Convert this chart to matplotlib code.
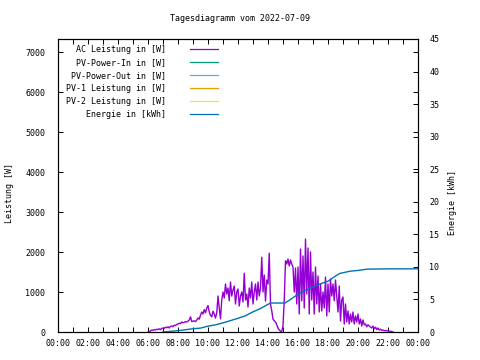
import numpy as np
import matplotlib
matplotlib.use("Agg")
import matplotlib.pyplot as plt
from matplotlib.ticker import FixedLocator, MultipleLocator
from matplotlib.lines import Line2D

title = "Tagesdiagramm vom 2022-07-09"
series_labels = ["AC Leistung in [W]", "PV-Power-In in [W]", "PV-Power-Out in [W]",
                 "PV-1 Leistung in [W]", "PV-2 Leistung in [W]", "Energie in [kWh]"]
series_colors = ["#9400D3", "#009E73", "#56B4E9", "#E69F00", "#F0E442", "#0072B2"]

# AC power, 5-minute samples from 06:00 to 22:20
ac_start_hour = 6.0
ac_power = [
    0, 0, 30, 50, 40, 60, 50, 70, 60, 80, 60, 90,                      # 06
    100, 90, 120, 110, 130, 100, 140, 150, 130, 170, 160, 190,         # 07
    200, 220, 210, 250, 230, 240, 260, 250, 270, 300, 380, 260,        # 08
    270, 280, 260, 300, 350, 320, 420, 500, 450, 560, 480, 600,        # 09
    660, 500, 420, 380, 520, 450, 350, 480, 900, 600, 330, 800,        # 10
    1000, 850, 1200, 950, 1100, 780, 1250, 900, 1050, 1150, 700, 1000, # 11
    1075, 650, 900, 1000, 750, 1470, 800, 950, 625, 1100, 850, 1250,   # 12
    700, 1000, 1200, 800, 1250, 900, 1100, 1870, 1000, 1425, 775, 1300,# 13
    1200, 1970, 700, 530, 320, 280, 250, 180, 100, 50, 20, 10,         # 14
    150, 800, 1780, 1700, 1825, 1650, 1800, 1700, 1625, 1000, 1600, 700,  # 15
    1625, 450, 2075, 780, 1900, 600, 2325, 950, 2100, 450, 2000, 800,  # 16
    1500, 450, 1625, 700, 1400, 500, 1200, 525, 1000, 600, 1375, 400,  # 17
    1200, 500, 1325, 900, 1200, 780, 1300, 900, 500, 1150, 275, 800,   # 18
    875, 200, 700, 250, 525, 200, 450, 250, 500, 200, 400, 250,        # 19
    450, 200, 325, 150, 300, 180, 200, 130, 180, 150, 120, 100,        # 20
    150, 80, 120, 60, 100, 50, 70, 40, 50, 30, 40, 30,                 # 21
    30, 20, 20, 10, 0,                                                 # 22
]

energy_hours = [7.0, 7.5, 8.0, 8.5, 9.0, 9.5, 10.0, 10.5, 11.0, 11.5, 12.0, 12.5,
                13.0, 13.5, 14.0, 14.17, 15.13, 15.5, 16.0, 16.5, 17.0, 17.5, 18.0,
                18.5, 18.8, 19.0, 19.5, 20.0, 20.6, 22.0, 24.0]
energy_kwh = [0.0, 0.1, 0.2, 0.35, 0.5, 0.6, 0.9, 1.1, 1.4, 1.75, 2.1, 2.5,
              3.1, 3.6, 4.25, 4.45, 4.45, 5.0, 5.8, 6.4, 6.9, 7.4, 7.8,
              8.6, 9.0, 9.1, 9.35, 9.45, 9.65, 9.7, 9.7]

xtick_labels = ["00:00", "02:00", "04:00", "06:00", "08:00", "10:00", "12:00",
                "14:00", "16:00", "18:00", "20:00", "22:00", "00:00"]

plt.rcParams['font.family'] = ['DejaVu Sans Mono']
FS = 6

fig = plt.figure(figsize=(4.8, 3.6), dpi=100)
W, H = 480, 360
L, R, T, B = 58, 418, 39, 332
ax = fig.add_axes([L / W, 1 - B / H, (R - L) / W, (B - T) / H])
ax2 = ax.twinx()

ac_hours = ac_start_hour + np.arange(len(ac_power)) * (5.0 / 60.0)
ax.plot(ac_hours, ac_power, color=series_colors[0], lw=1.0, zorder=3)
ax2.plot(energy_hours, energy_kwh, color=series_colors[5], lw=1.0, zorder=3)

ax.set_xlim(0, 24)
ax.set_ylim(0, 7325)
ax2.set_ylim(0, 45)

ax.xaxis.set_major_locator(FixedLocator(np.arange(0, 25, 2)))
ax.xaxis.set_minor_locator(FixedLocator(np.arange(1, 24, 2)))
ax.set_xticklabels(xtick_labels)
ax.yaxis.set_major_locator(MultipleLocator(1000))
ax2.yaxis.set_major_locator(MultipleLocator(5))
ax2.yaxis.set_minor_locator(FixedLocator([k * 1000 * 45 / 7325 for k in range(1, 8)]))

for a in (ax, ax2):
    for s in a.spines.values():
        s.set_linewidth(0.8)
        s.set_color('black')

ax.tick_params(axis='x', which='both', direction='in', length=3.5, width=0.7,
               top=True, labelsize=FS, pad=5)
ax.tick_params(axis='y', which='both', direction='in', length=3.5, width=0.7,
               labelsize=FS, pad=9, right=False)
ax2.tick_params(axis='y', which='both', direction='in', length=3.5, width=0.7,
                labelsize=FS, pad=8)

ax.set_ylabel("Leistung [W]", fontsize=FS)
ax2.set_ylabel("Energie [kWh]", fontsize=FS)
ax.yaxis.set_label_coords(-(58 - 14) / 360, (332 - 193) / 293)
ax2.yaxis.set_label_coords((448 - 58) / 360, (332 - 202) / 293)

fig.text(0.5, 1 - 18.5 / H, title, ha='center', va='center', fontsize=FS)

# legend (manual, gnuplot style: right-aligned text, sample to the right)
leg_y = [49.3, 62.3, 75.3, 88.3, 101.3, 114.3]
for lab, col, py in zip(series_labels, series_colors, leg_y):
    ya = (B - py) / (B - T)
    ax.text((166 - L) / (R - L), ya, lab, transform=ax.transAxes, ha='right',
            va='center', fontsize=FS)
    ax.add_line(Line2D([(190 - L) / (R - L), (218 - L) / (R - L)], [ya, ya],
                       transform=ax.transAxes, color=col, lw=0.9))

fig.savefig("out.png", dpi=100)
